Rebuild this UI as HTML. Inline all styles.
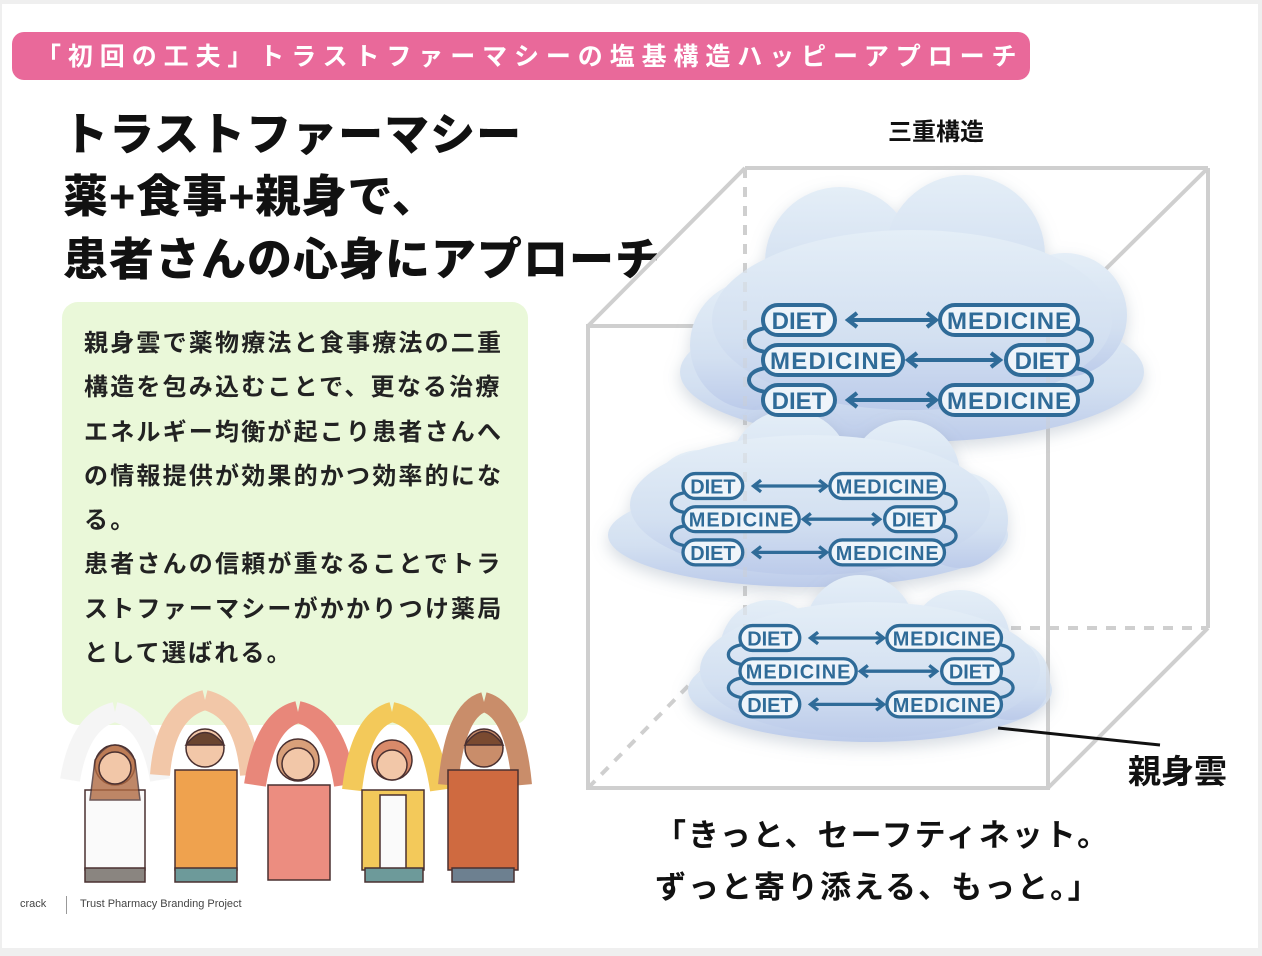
<!DOCTYPE html>
<html><head><meta charset="utf-8"><style>
body{margin:0;width:1262px;height:956px;background:#efefef;font-family:"Liberation Sans","Noto Sans CJK JP",sans-serif;overflow:hidden}
.page{position:absolute;left:2px;top:4px;width:1256px;height:944px;background:#fff}
.banner{position:absolute;left:12px;top:32px;width:1018px;height:48px;background:#e9699a;border-radius:12px;color:#fff;font-size:25px;font-weight:bold;line-height:50px;padding-left:24px;box-sizing:border-box;letter-spacing:6.9px;white-space:nowrap}
.h{position:absolute;left:63px;font-size:45px;font-weight:900;color:#111;white-space:nowrap;letter-spacing:1px}
.green{position:absolute;left:62px;top:302px;width:466px;height:423px;background:#eaf8d9;border-radius:16px}
.gt{position:absolute;left:84px;top:322px;width:460px;font-size:24px;font-weight:bold;color:#222;line-height:44.3px;letter-spacing:2.2px;white-space:nowrap}
.foot{position:absolute;top:898px;font-size:11px;color:#444}
</style></head><body>
<div class="page"></div>
<div class="banner">「初回の工夫」トラストファーマシーの塩基構造ハッピーアプローチ</div>
<div class="h" style="top:98px">トラストファーマシー</div>
<div class="h" style="top:160px">薬+食事+親身で、</div>
<div class="h" style="top:223px">患者さんの心身にアプローチ</div>
<div class="green"></div>
<div class="gt">親身雲で薬物療法と食事療法の二重<br>構造を包み込むことで、更なる治療<br>エネルギー均衡が起こり患者さんへ<br>の情報提供が効果的かつ効率的にな<br>る。<br>患者さんの信頼が重なることでトラ<br>ストファーマシーがかかりつけ薬局<br>として選ばれる。</div>
<div class="foot" style="left:20px">crack</div>
<div style="position:absolute;left:66px;top:896px;width:1px;height:18px;background:#999"></div>
<div class="foot" style="left:80px">Trust Pharmacy Branding Project</div>

<svg width="1262" height="956" style="position:absolute;left:0;top:0">
<defs>
<linearGradient id="cg" x1="0" y1="0" x2="0" y2="1">
<stop offset="0" stop-color="#e4eef7"/><stop offset="0.6" stop-color="#d3e0f1"/><stop offset="1" stop-color="#bccbea"/>
</linearGradient>
<filter id="sh" x="-20%" y="-20%" width="140%" height="140%"><feDropShadow dx="0" dy="6" stdDeviation="8" flood-color="#8899aa" flood-opacity="0.35"/></filter>
</defs>
<g stroke="#cfcfcf" stroke-width="4" fill="none">
<line x1="745" y1="168" x2="1208" y2="168"/>
<line x1="1208" y1="168" x2="1208" y2="628"/>
<line x1="745" y1="168" x2="745" y2="628" stroke-dasharray="10 9"/>
<line x1="745" y1="628" x2="1208" y2="628" stroke-dasharray="10 9"/>
<line x1="588" y1="788" x2="745" y2="628" stroke-dasharray="10 9"/>
<line x1="588" y1="326" x2="745" y2="168"/>
<line x1="1048" y1="326" x2="1208" y2="168"/>
<line x1="1048" y1="788" x2="1208" y2="628"/>
<rect x="588" y="326" width="460" height="462"/>
</g>
<g fill="url(#cg)" filter="url(#sh)">
<ellipse cx="912" cy="372" rx="232" ry="70"/><circle cx="840" cy="262" r="75"/><circle cx="965" cy="255" r="80"/><circle cx="1065" cy="315" r="62"/><circle cx="755" cy="345" r="65"/><ellipse cx="912" cy="320" rx="200" ry="90"/>
</g>
<g fill="url(#cg)" filter="url(#sh)">
<ellipse cx="808" cy="535" rx="200" ry="52"/><circle cx="700" cy="500" r="50"/><circle cx="790" cy="470" r="60"/><circle cx="905" cy="475" r="55"/><circle cx="960" cy="520" r="48"/><ellipse cx="810" cy="505" rx="180" ry="70"/>
</g>
<g fill="url(#cg)" filter="url(#sh)">
<ellipse cx="870" cy="690" rx="182" ry="52"/><circle cx="770" cy="650" r="50"/><circle cx="860" cy="630" r="55"/><circle cx="960" cy="640" r="50"/><circle cx="1010" cy="680" r="40"/><ellipse cx="870" cy="670" rx="170" ry="68"/>
</g>
<g stroke="#cfcfcf" stroke-width="4" opacity="0.35"><line x1="1048" y1="326" x2="1048" y2="788"/><line x1="745" y1="168" x2="745" y2="628" stroke-dasharray="10 9"/></g>

<g transform="translate(763,320)">
<g stroke="#2f6b98" stroke-width="4" fill="none">
<path d="M4,8 C-20,10 -20,30 4,32 M4,48 C-20,50 -20,70 4,72 M311,8 C335,10 335,30 311,32 M311,48 C335,50 335,70 311,72"/>
<line x1="86" y1="0" x2="172" y2="0"/><path d="M94,-7 L85,0 L94,7 M164,-7 L173,0 L164,7"/>
<line x1="146" y1="40" x2="236" y2="40"/><path d="M154,33 L145,40 L154,47 M228,33 L237,40 L228,47"/>
<line x1="86" y1="80" x2="172" y2="80"/><path d="M94,73 L85,80 L94,87 M164,73 L173,80 L164,87"/>
</g>
<g stroke="#2f6b98" stroke-width="4" fill="#eef4fa">
<rect x="0" y="-15" width="72" height="30" rx="15"/><rect x="177" y="-15" width="138" height="30" rx="15"/>
<rect x="0" y="25" width="140" height="30" rx="15"/><rect x="243" y="25" width="72" height="30" rx="15"/>
<rect x="0" y="65" width="72" height="30" rx="15"/><rect x="177" y="65" width="138" height="30" rx="15"/>
</g>
<g fill="#2f6b98" font-size="24" font-weight="bold" text-anchor="middle">
<text x="36" y="9">DIET</text><text x="246" y="9" textLength="124">MEDICINE</text>
<text x="70" y="49" textLength="126">MEDICINE</text><text x="279" y="49">DIET</text>
<text x="36" y="89">DIET</text><text x="246" y="89" textLength="124">MEDICINE</text>
</g>
</g>
<g transform="translate(683,486) scale(0.83)">
<g stroke="#2f6b98" stroke-width="4" fill="none">
<path d="M4,8 C-20,10 -20,30 4,32 M4,48 C-20,50 -20,70 4,72 M311,8 C335,10 335,30 311,32 M311,48 C335,50 335,70 311,72"/>
<line x1="86" y1="0" x2="172" y2="0"/><path d="M94,-7 L85,0 L94,7 M164,-7 L173,0 L164,7"/>
<line x1="146" y1="40" x2="236" y2="40"/><path d="M154,33 L145,40 L154,47 M228,33 L237,40 L228,47"/>
<line x1="86" y1="80" x2="172" y2="80"/><path d="M94,73 L85,80 L94,87 M164,73 L173,80 L164,87"/>
</g>
<g stroke="#2f6b98" stroke-width="4" fill="#eef4fa">
<rect x="0" y="-15" width="72" height="30" rx="15"/><rect x="177" y="-15" width="138" height="30" rx="15"/>
<rect x="0" y="25" width="140" height="30" rx="15"/><rect x="243" y="25" width="72" height="30" rx="15"/>
<rect x="0" y="65" width="72" height="30" rx="15"/><rect x="177" y="65" width="138" height="30" rx="15"/>
</g>
<g fill="#2f6b98" font-size="24" font-weight="bold" text-anchor="middle">
<text x="36" y="9">DIET</text><text x="246" y="9" textLength="124">MEDICINE</text>
<text x="70" y="49" textLength="126">MEDICINE</text><text x="279" y="49">DIET</text>
<text x="36" y="89">DIET</text><text x="246" y="89" textLength="124">MEDICINE</text>
</g>
</g>
<g transform="translate(740,638) scale(0.83)">
<g stroke="#2f6b98" stroke-width="4" fill="none">
<path d="M4,8 C-20,10 -20,30 4,32 M4,48 C-20,50 -20,70 4,72 M311,8 C335,10 335,30 311,32 M311,48 C335,50 335,70 311,72"/>
<line x1="86" y1="0" x2="172" y2="0"/><path d="M94,-7 L85,0 L94,7 M164,-7 L173,0 L164,7"/>
<line x1="146" y1="40" x2="236" y2="40"/><path d="M154,33 L145,40 L154,47 M228,33 L237,40 L228,47"/>
<line x1="86" y1="80" x2="172" y2="80"/><path d="M94,73 L85,80 L94,87 M164,73 L173,80 L164,87"/>
</g>
<g stroke="#2f6b98" stroke-width="4" fill="#eef4fa">
<rect x="0" y="-15" width="72" height="30" rx="15"/><rect x="177" y="-15" width="138" height="30" rx="15"/>
<rect x="0" y="25" width="140" height="30" rx="15"/><rect x="243" y="25" width="72" height="30" rx="15"/>
<rect x="0" y="65" width="72" height="30" rx="15"/><rect x="177" y="65" width="138" height="30" rx="15"/>
</g>
<g fill="#2f6b98" font-size="24" font-weight="bold" text-anchor="middle">
<text x="36" y="9">DIET</text><text x="246" y="9" textLength="124">MEDICINE</text>
<text x="70" y="49" textLength="126">MEDICINE</text><text x="279" y="49">DIET</text>
<text x="36" y="89">DIET</text><text x="246" y="89" textLength="124">MEDICINE</text>
</g>
</g>

<line x1="998" y1="728" x2="1160" y2="745" stroke="#111" stroke-width="3"/>
<g font-weight="bold" fill="#111">
<text x="888" y="140" font-size="24">三重構造</text>
<text x="1128" y="783" font-size="33">親身雲</text>
<text x="655" y="846" font-size="31" letter-spacing="2">「きっと、セーフティネット。</text>
<text x="655" y="898" font-size="31" letter-spacing="2">ずっと寄り添える、もっと。」</text>
</g>

<g stroke="#4a3030" stroke-width="1.5">
<path d="M70,780 Q80,720 115,712 M160,780 Q150,720 115,712" stroke="#f5f5f5" stroke-width="20" fill="none"/>
<rect x="85" y="790" width="60" height="80" fill="#fafafa"/><rect x="85" y="868" width="60" height="14" fill="#8a8580"/>
<circle cx="115" cy="765" r="20" fill="#f2c7a8"/><path d="M95,760 Q115,730 135,760 L140,800 L90,800 Z" fill="#b06a42" opacity="0.8"/>
<circle cx="115" cy="768" r="16" fill="#f2c7a8"/>
<path d="M160,775 Q165,710 205,700 M250,775 Q245,710 205,700" stroke="#f2c7a8" stroke-width="20" fill="none"/>
<rect x="175" y="770" width="62" height="100" fill="#efa24e"/><rect x="175" y="868" width="62" height="14" fill="#6d9a9a"/>
<circle cx="205" cy="748" r="19" fill="#f2c7a8"/><path d="M186,745 Q205,720 224,745 Z" fill="#6a4530"/>
<path d="M255,785 Q265,720 298,712 M345,785 Q335,720 298,712" stroke="#e8877a" stroke-width="22" fill="none"/>
<rect x="268" y="785" width="62" height="95" fill="#ec8d80"/>
<circle cx="298" cy="760" r="21" fill="#d9a07a"/><circle cx="298" cy="764" r="16" fill="#f2c7a8"/>
<path d="M352,790 Q360,720 392,712 M440,790 Q430,720 392,712" stroke="#f3c95a" stroke-width="20" fill="none"/>
<rect x="362" y="790" width="62" height="80" fill="#f3c95a"/><rect x="380" y="795" width="26" height="80" fill="#fafafa"/><rect x="365" y="868" width="58" height="14" fill="#6d9a9a"/>
<circle cx="392" cy="760" r="20" fill="#d98a6a"/><circle cx="392" cy="765" r="15" fill="#f2c7a8"/>
<path d="M448,785 Q455,710 484,702 M522,785 Q515,710 484,702" stroke="#c98d6a" stroke-width="20" fill="none"/>
<rect x="448" y="770" width="70" height="100" fill="#cf6a40"/><rect x="452" y="868" width="62" height="14" fill="#6d8090"/>
<circle cx="484" cy="748" r="19" fill="#c98d6a"/><path d="M465,745 Q484,718 503,745 Z" fill="#7a4a30"/>
</g>
</svg>
</body></html>
